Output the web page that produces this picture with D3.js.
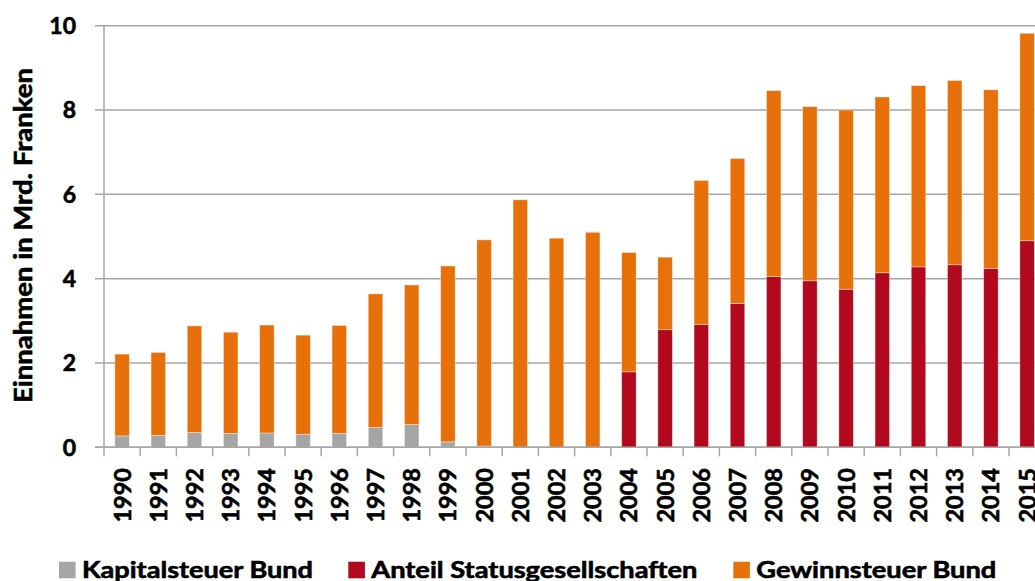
<!DOCTYPE html>
<html>
<head>
    <meta charset="utf-8" />
    <title>Einnahmen Bund</title>
    <script src="https://cdn.jsdelivr.net/npm/d3@7/dist/d3.min.js"></script>
    <style>
        body { margin: 0; background: #fff; }
        text { font-family: Lato, "Open Sans", sans-serif; font-weight: bold; fill: #000;
               stroke: #000; stroke-width: 0.6px; }
    </style>
</head>
<body>
    <svg width="1035" height="581"></svg>
    <script>

        var years = ["1990", "1991", "1992", "1993", "1994", "1995", "1996", "1997", "1998", "1999",
                     "2000", "2001", "2002", "2003", "2004", "2005", "2006", "2007", "2008", "2009",
                     "2010", "2011", "2012", "2013", "2014", "2015"];

        // Kapitalsteuer Bund
        var kapital = [0.27, 0.28, 0.35, 0.33, 0.34, 0.31, 0.33, 0.47, 0.54, 0.13,
                       0.03, 0, 0, 0, 0, 0, 0, 0, 0, 0,
                       0, 0, 0, 0, 0, 0];
        // Anteil Statusgesellschaften
        var anteilStatus = [0, 0, 0, 0, 0, 0, 0, 0, 0, 0,
                            0, 0, 0, 0, 1.79, 2.79, 2.91, 3.41, 4.05, 3.95,
                            3.75, 4.14, 4.28, 4.33, 4.24, 4.90];
        // Gewinnsteuer Bund
        var gewinn = [1.94, 1.97, 2.53, 2.40, 2.56, 2.35, 2.56, 3.17, 3.31, 4.17,
                      4.89, 5.87, 4.96, 5.10, 2.83, 1.72, 3.42, 3.44, 4.41, 4.13,
                      4.25, 4.17, 4.30, 4.37, 4.24, 4.92];

        var seriesNames = ["Kapitalsteuer Bund", "Anteil Statusgesellschaften", "Gewinnsteuer Bund"];
        var yTicks = [0, 2, 4, 6, 8, 10];

        var colors = ["#a5a5a5", "#b2091e", "#e8700a"];

        var svg = d3.select("svg");

        var rows = years.map(function (y, i) {
            return { year: y, k: kapital[i], s: anteilStatus[i], g: gewinn[i] };
        });

        var x = d3.scaleBand()
            .domain(years)
            .range([104, 104 + 26 * 36.2])
            .paddingInner(0.6)
            .paddingOuter(0.3);

        var y = d3.scaleLinear()
            .domain([0, 10])
            .range([447.3, 25.7]);

        var layers = d3.stack().keys(["k", "s", "g"])(rows);

        // gridlines
        svg.append("g")
            .selectAll("line")
            .data(yTicks)
            .enter()
            .append("line")
            .attr("x1", 95)
            .attr("x2", 1035)
            .attr("y1", function (d) { return y(d); })
            .attr("y2", function (d) { return y(d); })
            .attr("stroke", "#a6a6a6")
            .attr("stroke-width", 1.5);

        // y axis line
        svg.append("line")
            .attr("x1", 104).attr("x2", 104)
            .attr("y1", y(10)).attr("y2", y(0))
            .attr("stroke", "#a6a6a6")
            .attr("stroke-width", 1.5);

        // bars
        svg.append("g")
            .selectAll("g")
            .data(layers)
            .enter()
            .append("g")
            .attr("fill", function (d, i) { return colors[i]; })
            .selectAll("rect")
            .data(function (d) { return d; })
            .enter()
            .append("rect")
            .attr("x", function (d) { return x(d.data.year); })
            .attr("width", x.bandwidth())
            .attr("y", function (d) { return y(d[1]); })
            .attr("height", function (d) { return Math.max(0, y(d[0]) - y(d[1])); })
            .attr("stroke", "#fff")
            .attr("stroke-opacity", 0.45)
            .attr("stroke-width", function (d) { return d[1] - d[0] > 0 ? 0.8 : 0; });

        // x axis line + tick marks at category boundaries
        svg.append("line")
            .attr("x1", 95).attr("x2", 1035)
            .attr("y1", y(0)).attr("y2", y(0))
            .attr("stroke", "#a6a6a6")
            .attr("stroke-width", 1.5);

        svg.append("g")
            .selectAll("line")
            .data(years)
            .enter()
            .append("line")
            .attr("x1", function (d) { return x(d) - x.step() * x.paddingOuter(); })
            .attr("x2", function (d) { return x(d) - x.step() * x.paddingOuter(); })
            .attr("y1", y(0))
            .attr("y2", y(0) + 9)
            .attr("stroke", "#a6a6a6")
            .attr("stroke-width", 1.5);

        // y tick labels
        svg.append("g")
            .selectAll("text")
            .data(yTicks)
            .enter()
            .append("text")
            .attr("x", 76)
            .attr("y", function (d) { return y(d); })
            .attr("dy", "0.36em")
            .attr("text-anchor", "end")
            .style("font-size", "23px")
            .text(function (d) { return d; });

        // x tick labels (rotated)
        svg.append("g")
            .selectAll("text")
            .data(years)
            .enter()
            .append("text")
            .attr("transform", function (d) {
                return "translate(" + (x(d) + x.bandwidth() / 2) + ",468) rotate(-90)";
            })
            .attr("dy", "0.36em")
            .attr("text-anchor", "end")
            .style("font-size", "23.5px")
            .text(function (d) { return d; });

        // y axis title
        svg.append("text")
            .attr("transform", "translate(22.5,235.5) rotate(-90)")
            .attr("dy", "0.36em")
            .attr("text-anchor", "middle")
            .attr("textLength", 335)
            .attr("lengthAdjust", "spacingAndGlyphs")
            .style("font-size", "25px")
            .text("Einnahmen in Mrd. Franken");

        // legend
        var legendX = [59, 348.3, 733.3];
        var legendW = [231, 326, 240];
        var legend = svg.append("g")
            .selectAll("g")
            .data(seriesNames)
            .enter()
            .append("g")
            .attr("transform", function (d, i) { return "translate(" + legendX[i] + ",561.7)"; });

        legend.append("rect")
            .attr("width", 16.6)
            .attr("height", 16.6)
            .attr("fill", function (d, i) { return colors[i]; });

        legend.append("text")
            .attr("x", 23)
            .attr("y", 16.6)
            .attr("textLength", function (d, i) { return legendW[i]; })
            .attr("lengthAdjust", "spacingAndGlyphs")
            .style("font-size", "23px")
            .text(function (d) { return d; });

    </script>
</body>
</html>
